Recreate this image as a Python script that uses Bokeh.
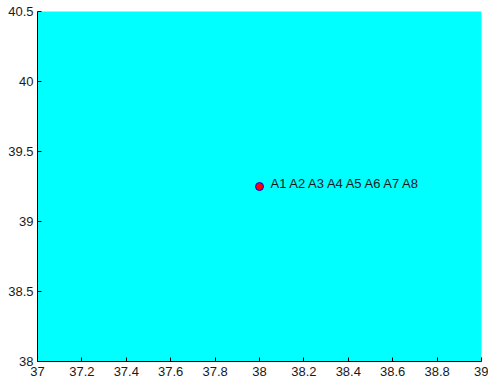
from bokeh.plotting import figure
from bokeh.models import Range1d, FixedTicker, CustomJSTickFormatter, ColumnDataSource
from bokeh.core.properties import value
from bokeh.embed import file_html
from bokeh.resources import INLINE

# data
point_x = [38.0]
point_y = [39.25]
point_label = ["A1 A2 A3 A4 A5 A6 A7 A8"]
x_ticks = [37, 37.2, 37.4, 37.6, 37.8, 38, 38.2, 38.4, 38.6, 38.8, 39]
y_ticks = [38, 38.5, 39, 39.5, 40, 40.5]

FONT = "Liberation Sans"

p = figure(width=488, height=379, output_backend="svg", toolbar_location=None,
           x_range=Range1d(37, 39), y_range=Range1d(38, 40.5),
           min_border_left=37, min_border_right=7, min_border_top=11, min_border_bottom=18)
p.background_fill_color = "#00FFFF"
p.border_fill_color = "white"
p.outline_line_color = None
p.xgrid.visible = False
p.ygrid.visible = False

fmt = CustomJSTickFormatter(code="return String(tick);")
for ax, ticks, standoff in ((p.xaxis[0], x_ticks, 5), (p.yaxis[0], y_ticks, 4)):
    ax.ticker = FixedTicker(ticks=ticks, minor_ticks=[])
    ax.formatter = fmt
    ax.major_tick_in = 4
    ax.major_tick_out = 0
    ax.minor_tick_in = 0
    ax.minor_tick_out = 0
    ax.axis_line_color = "black"
    ax.major_tick_line_color = "black"
    ax.major_label_text_font = FONT
    ax.major_label_text_font_size = "13px"
    ax.major_label_text_color = "#1a1a1a"
    ax.major_label_standoff = standoff

src = ColumnDataSource(dict(x=point_x, y=point_y, label=point_label))
p.scatter("x", "y", source=src, size=8, fill_color="red", line_color="blue", line_width=1)
p.text("x", "y", text="label", source=src, x_offset=11, y_offset=-3,
       text_font=value(FONT), text_font_size="13px", text_color="#1a1a1a",
       text_baseline="alphabetic", text_align="left")

open("out.html", "w").write(file_html(p, INLINE))
